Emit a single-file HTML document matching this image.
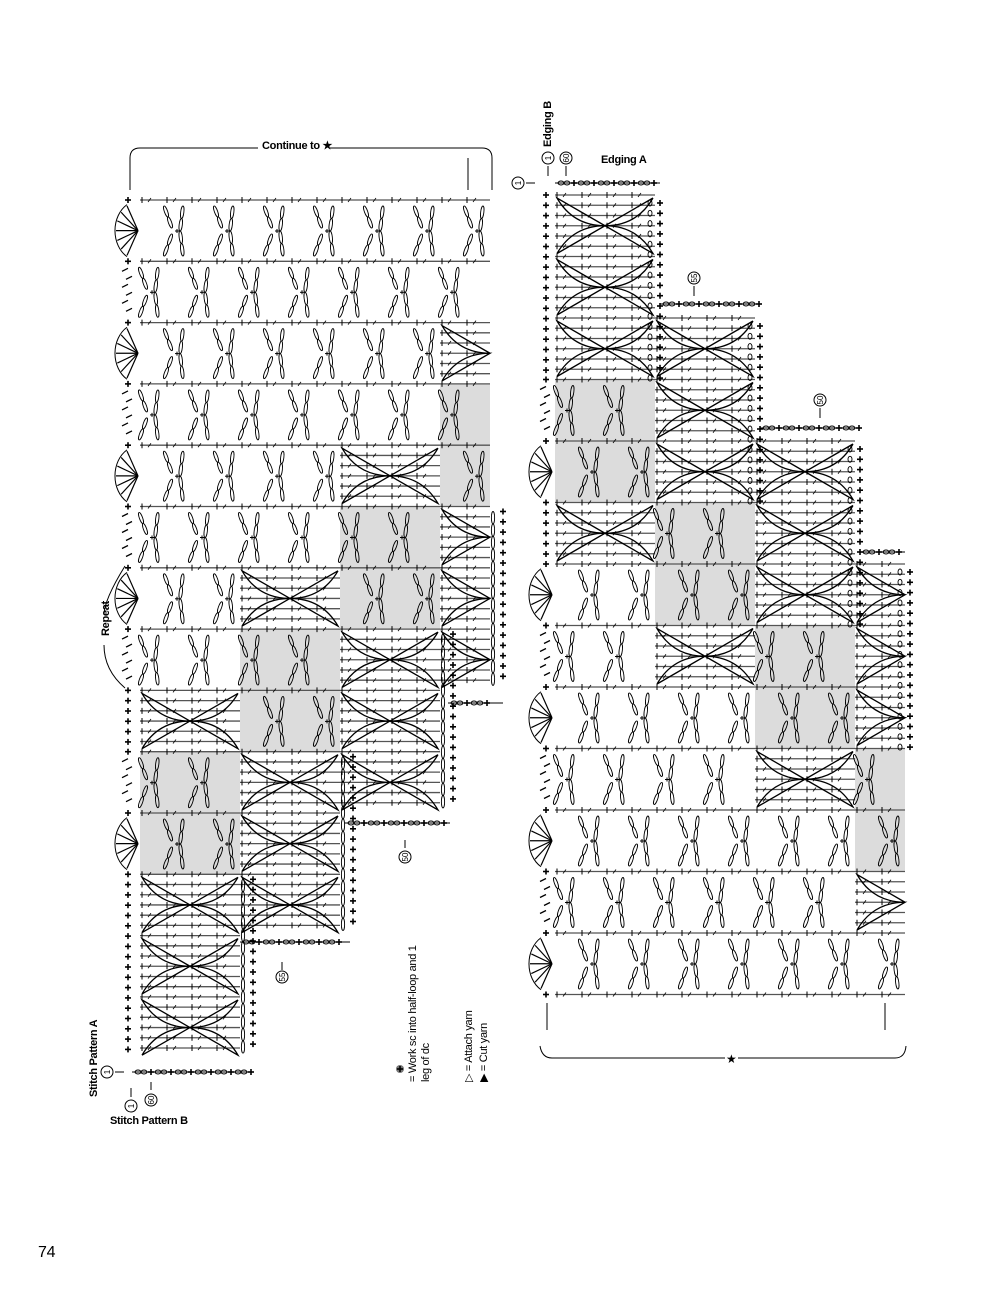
<!DOCTYPE html>
<html><head><meta charset="utf-8">
<style>
html,body{margin:0;padding:0;background:#fff}
body{width:1000px;height:1294px;position:relative;overflow:hidden;font-family:"Liberation Sans",sans-serif}
svg{position:absolute;left:0;top:0}
.t{position:absolute;font-size:11px;font-weight:bold;color:#000;white-space:nowrap;transform-origin:0 0;letter-spacing:-0.3px}
.r{transform:rotate(-90deg)}
</style></head><body>
<svg id="s" width="1000" height="1294" viewBox="0 0 1000 1294"></svg>
<div class="t" style="left:262px;top:139px">Continue to ★</div>
<div class="t r" style="left:100px;top:636px">Repeat</div>
<div class="t r" style="left:88px;top:1097px">Stitch Pattern A</div>
<div class="t" style="left:110px;top:1115px">Stitch Pattern B</div>
<div class="t r" style="left:542px;top:147px">Edging B</div>
<div class="t" style="left:601px;top:154px">Edging A</div>
<div class="t r" style="left:407px;top:1082px;font-weight:normal">= Work sc into half-loop and 1</div>
<div class="t r" style="left:420px;top:1082px;font-weight:normal">leg of dc</div>
<div class="t r" style="left:462px;top:1082px;font-weight:normal">▷ = Attach yarn</div>
<div class="t r" style="left:477px;top:1082px;font-weight:normal">▶ = Cut yarn</div>
<div class="t" style="left:38px;top:1244px;font-size:16px;font-weight:normal">74</div>
<script>
var S=document.getElementById('s'),o='';
function L(a,b,c,d,col,w){o+='<line x1="'+a+'" y1="'+b+'" x2="'+c+'" y2="'+d+'" stroke="'+(col||'#000')+'" stroke-width="'+(w||1)+'"/>';}
function E(x,y,rx,ry,ang){o+='<ellipse cx="'+x+'" cy="'+y+'" rx="'+rx+'" ry="'+ry+'" transform="rotate('+ang+' '+x+' '+y+')" fill="none" stroke="#000" stroke-width="0.9"/>';}
function P(x,y){L(x-3,y,x+3,y,'#000',1.6);L(x,y-3,x,y+3,'#000',1.6);}
function R(x,y,w,h,c){o+='<rect x="'+x+'" y="'+y+'" width="'+w+'" height="'+h+'" fill="'+c+'"/>';}
function rowline(x,y,w){L(x,y,x+w,y,'#555',1.3);for(var k=0;k<w;k+=25){L(x+k+2,y-3,x+k+2,y+3,'#000',1);L(x+k+8,y+2,x+k+11,y-2,'#000',0.8);}}
function chain(x1,y1,x2,y2,n){var dx=(x2-x1)/n,dy=(y2-y1)/n,a=Math.atan2(dy,dx)*180/Math.PI-90;for(var i=0;i<n;i++)E(x1+dx*(i+.5),y1+dy*(i+.5),1.6,Math.hypot(dx,dy)/2,a);}
function lace(x,y,w,h,b){
 rowline(x,y,w);
 for(var u=x;u<x+w-1;u+=50){
  var cx=u+(b%2?10:35);
  chain(cx-11,y+6,cx-3,y+28,2);chain(cx-3,y+34,cx-11,y+56,2);
  L(cx,y+31,cx+4,y+31,'#000',1);L(cx+2,y+29,cx+2,y+33,'#000',1);
  chain(cx+8,y+6,cx+5,y+31,2);chain(cx+5,y+31,cx+8,y+56,2);
 }}
function lens(x1,y1,x2,y2,b){var mx=(x1+x2)/2,my=(y1+y2)/2,dx=x2-x1,dy=y2-y1,l=Math.hypot(dx,dy),nx=-dy/l*b,ny=dx/l*b;
 o+='<path d="M'+x1+' '+y1+' Q'+(mx+nx*2)+' '+(my+ny*2)+' '+x2+' '+y2+' L'+x1+' '+y1+'" fill="none" stroke="#000" stroke-width="1.3"/>';}
function leaf(x,y,w,nb,H){
 for(var i=0;i<nb*6;i++)rowline(x,y+i*H/6,w);
 for(var k=0;k<nb;k++){
  var cy=y+k*H+H/2;
  lens(x+50,cy,x+2,y+k*H+3,-8);lens(x+2,y+k*H+H-3,x+50,cy,-8);
  if(w>=100){lens(x+98,y+k*H+3,x+50,cy,-8);lens(x+50,cy,x+98,y+k*H+H-3,-8);}
 }}
function fan(x,y){for(var i=0;i<7;i++){var a=(-60+i*20)*Math.PI/180;L(x,y,x-22*Math.cos(a),y+22*Math.sin(a)*1.3,'#000',1.2);}
 o+='<path d="M'+(x-11)+' '+(y-26)+' A24 30 0 0 0 '+(x-11)+' '+(y+26)+'" fill="none" stroke="#000" stroke-width="1"/>';}
function plusCol(x,y1,y2){for(var y=y1;y<=y2;y+=10.3)P(x,y);}
var H=61.3,Y0=200;
function band(k){return Y0+k*H;}
var Lp=[[140,100,[['lace',0,8],['leaf',8,1],['gray',9,2],['leaf',11,3]]],
 [240,100,[['lace',0,6],['leaf',6,1],['gray',7,2],['leaf',9,3]]],
 [340,100,[['lace',0,4],['leaf',4,1],['gray',5,2],['leaf',7,3]]],
 [440,50,[['lace',0,2],['leaf',2,1],['gray',3,2],['leaf',5,3]]]];
function drawPanels(P0,Y,HH){P0.forEach(function(p){var x=p[0],w=p[1];p[2].forEach(function(s){var y=Y+s[1]*HH;
 if(s[0]=='gray'){R(x,y,w,s[2]*HH,'#dcdcdc');}
 if(s[0]=='leaf')leaf(x,y,w,s[2],HH);else for(var k=0;k<s[2];k++)lace(x,y+k*HH,w,HH,s[1]+k);
 });});}
drawPanels(Lp,Y0,H);
for(var k=0;k<8;k++){var y=band(k);P(128,y);if(k%2==0){fan(138,y+H/2);}else{for(var j=0;j<6;j++)L(122+(j%2)*4,y+10+j*8,128+(j%2)*4,y+7+j*8,'#000',1.3);}}
plusCol(128,band(8),band(9));plusCol(128,band(11),band(14));
for(var k=9;k<11;k++){var y=band(k);P(128,y);if(k%2==0)fan(138,y+H/2);else for(var j=0;j<6;j++)L(122+(j%2)*4,y+10+j*8,128+(j%2)*4,y+7+j*8,'#000',1.3);}
[[240,band(11),band(14)],[340,band(9),band(12)],[440,band(7),band(10)],[490,band(5),band(8)]].forEach(function(c){chain(c[0]+3,c[1]+5,c[0]+3,c[2]-5,14);plusCol(c[0]+13,c[1]+5,c[2]-5);});
function edge(x1,x2,y){L(x1,y,x2,y,'#000',1);for(var x=x1+6;x<x2-8;x+=20){E(x,y,3,2,0);E(x+6,y,3,2,0);P(x+13,y);}}
edge(132,250,1072);edge(240,350,942);edge(345,450,823);edge(448,500,703);
o+='<path d="M130 190 V158 Q130 148 140 148 H258 M330 148 H482 Q492 148 492 158 V190" fill="none" stroke="#000" stroke-width="1"/>';
L(468,158,468,190);
o+='<path d="M125 566 Q104 600 104 615 M104 645 Q104 670 125 688" fill="none" stroke="#000" stroke-width="1"/>';
var Y1=195,H2=61.5;
var Rp=[[555,100,[['leaf',0,3],['gray',3,2],['leaf',5,1],['lace',6,7]]],
 [655,100,[['leaf',2,3],['gray',5,2],['leaf',7,1],['lace',8,5]]],
 [755,100,[['leaf',4,3],['gray',7,2],['leaf',9,1],['lace',10,3]]],
 [855,50,[['leaf',6,3],['gray',9,2],['leaf',11,1],['lace',12,1]]]];
drawPanels(Rp,Y1,H2);
rowline(555,Y1+13*H2,350);
plusCol(546,Y1,Y1+3*H2);plusCol(546,Y1+5*H2,Y1+6*H2);
for(var k=3;k<13;k++){if(k==5)continue;var y=Y1+k*H2;P(546,y);if(k%2==0)fan(552,y+H2/2);else for(var j=0;j<6;j++)L(540+(j%2)*4,y+10+j*8,546+(j%2)*4,y+7+j*8,'#000',1.3);}
P(546,Y1+13*H2);
[[655,0,3],[755,2,5],[855,4,7],[905,6,9]].forEach(function(c){for(var y=Y1+c[1]*H2+8;y<Y1+c[2]*H2;y+=10.3){E(c[0]-5,y,2,3,0);P(c[0]+5,y);}});
edge(555,660,183);edge(660,760,304);edge(760,860,428);edge(860,905,552);
L(547,1003,547,1030);L(885,1003,885,1030);
o+='<path d="M540 1046 Q542 1058 552 1058 H725 M738 1058 H895 Q905 1058 906 1046" fill="none" stroke="#000" stroke-width="1"/>';
o+='<text x="726" y="1063" font-size="12" font-family="DejaVu Sans">★</text>';
function circ(x,y,t){o+='<circle cx="'+x+'" cy="'+y+'" r="6" fill="none" stroke="#000"/><text x="'+x+'" y="'+(y+3)+'" font-size="8" text-anchor="middle" font-family="Liberation Sans" transform="rotate(-90 '+x+' '+y+')">'+t+'</text>';}
circ(518,183,'1');circ(548,158,'1');circ(566,158,'60');circ(694,278,'55');circ(820,400,'50');
circ(107,1072,'1');circ(131,1106,'1');circ(151,1100,'60');circ(282,977,'55');circ(405,857,'50');
L(526,183,535,183);L(548,166,548,176);L(566,166,566,176);L(694,286,694,296);L(820,408,820,418);
L(115,1072,124,1072);L(131,1088,131,1097);L(151,1082,151,1090);L(282,962,282,970);L(405,840,405,848);
L(478,703,503,703);
o+='<circle cx="400" cy="1069" r="4" fill="#777"/>';P(400,1069);
S.innerHTML=o;
</script>
</body></html>
